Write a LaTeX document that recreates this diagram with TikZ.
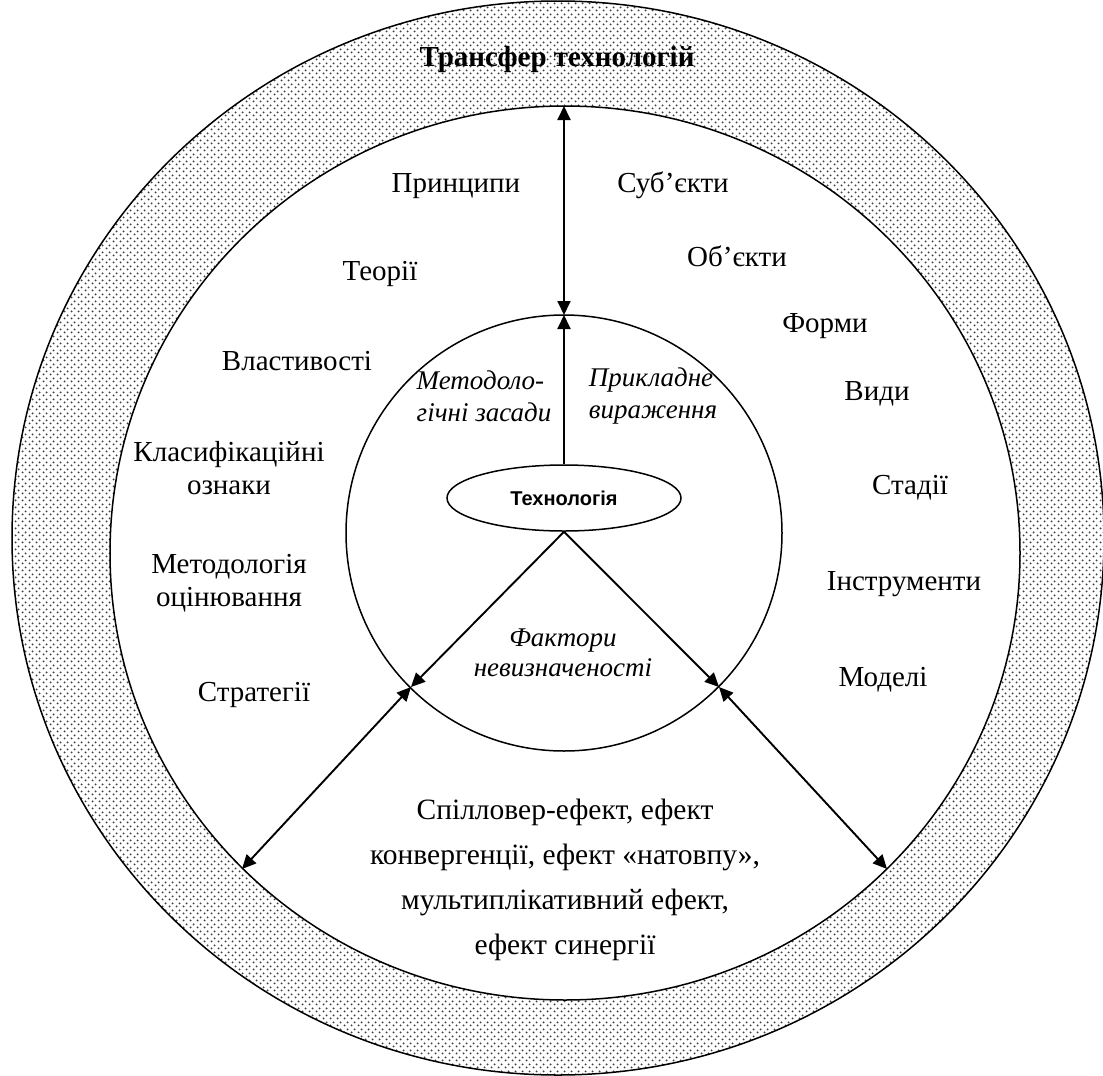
\documentclass[tikz,border=0pt]{standalone}
\usepackage{fontspec}
\setmainfont{Liberation Serif}
\newfontfamily\headsans{Liberation Sans}
\usetikzlibrary{arrows.meta,patterns.meta,shapes.geometric}

% fine dot screen for the outer ring
\tikzdeclarepattern{
  name=ringdots,
  type=uncolored,
  bounding box={(0pt,0pt) and (7pt,7pt)},
  tile size={(7pt,7pt)},
  code={
    \fill (1.75pt,1.75pt) circle (1.15pt);
    \fill (5.25pt,5.25pt) circle (1.15pt);
  }
}

\tikzset{
  ring/.style={line width=1.5pt},
  link/.style={line width=1.9pt, -{Triangle[length=14pt,width=13pt]}},
  biglink/.style={line width=1.9pt, {Triangle[length=14pt,width=13pt]}-{Triangle[length=14pt,width=13pt]}},
  lbl/.style={font=\fontsize{29}{33}\selectfont, align=center, inner sep=0pt},
  ital/.style={font=\fontsize{27}{32}\selectfont\itshape, align=left, inner sep=0pt},
}

\begin{document}
\begin{tikzpicture}[x=1pt, y=-1pt]
  \useasboundingbox (0,0) rectangle (1103,1076);
  \clip (0,0) rectangle (1103,1076);
  \fill[white] (0,0) rectangle (1103,1076);

  % outer dotted ring
  \fill[pattern=ringdots, pattern color=black!75, even odd rule]
    (558,538) ellipse [x radius=546, y radius=537]
    (565,553) ellipse [x radius=455, y radius=447];
  \draw[ring] (558,538) ellipse [x radius=546, y radius=537];
  \draw[ring] (565,553) ellipse [x radius=455, y radius=447];

  % central circle
  \draw[ring] (564,533) circle [radius=218];

  % core node
  \node[draw, ellipse, line width=1.5pt, minimum width=234pt, minimum height=66pt, inner sep=0pt,
        font=\headsans\fontsize{20}{24}\selectfont\bfseries] (tech) at (564,498) {Технологія};

  % anchor points of the connectors
  \coordinate (ringtop) at (564,106);
  \coordinate (circtop) at (564,315);
  \coordinate (crossl) at (411,687);
  \coordinate (crossr) at (719,687);
  \coordinate (ringl) at (242,869);
  \coordinate (ringr) at (887,869);

  % connectors
  \draw[link] (tech.north) -- (circtop);
  \draw[biglink] (circtop) -- (ringtop);
  \draw[link] (tech.south) -- (crossl);
  \draw[link] (tech.south) -- (crossr);
  \draw[biglink] (crossl) -- (ringl);
  \draw[biglink] (crossr) -- (ringr);

  % ring title
  \node[font=\fontsize{29}{34}\selectfont\bfseries, inner sep=0pt] (title) at (557,60) {Трансфер технологій};

  % left column
  \node[lbl] (princ) at (456,186) {Принципи};
  \node[lbl] (teor) at (380,274) {Теорії};
  \node[lbl] (vlast) at (297,361) {Властивості};
  \node[lbl] (klas) at (229,468) {Класифікаційні\\ознаки};
  \node[lbl] (metod) at (229,583) {Методологія\\оцінювання};
  \node[lbl] (strat) at (254,695) {Стратегії};

  % right column
  \node[lbl] (subj) at (673,185) {Суб’єкти};
  \node[lbl] (obj) at (737,256) {Об’єкти};
  \node[lbl] (form) at (825,326) {Форми};
  \node[lbl] (vydy) at (877,394) {Види};
  \node[lbl] (stad) at (910,488) {Стадії};
  \node[lbl] (instr) at (904,584) {Інструменти};
  \node[lbl] (model) at (883,680) {Моделі};

  % labels inside the central circle
  \node[ital] (mz) at (484,396) {Методоло-\\гічні засади};
  \node[ital] (pv) at (653,396) {Прикладне\\вираження};
  \node[ital, align=center, font=\fontsize{27}{30}\selectfont\itshape] (fn) at (563,653) {Фактори\\невизначеності};

  % effects
  \node[lbl, font=\fontsize{29.5}{45}\selectfont] (eff) at (565,880) {Спілловер-ефект, ефект\\конвергенції, ефект «натовпу»,\\мультиплікативний ефект,\\ефект синергії};
\end{tikzpicture}
\end{document}
